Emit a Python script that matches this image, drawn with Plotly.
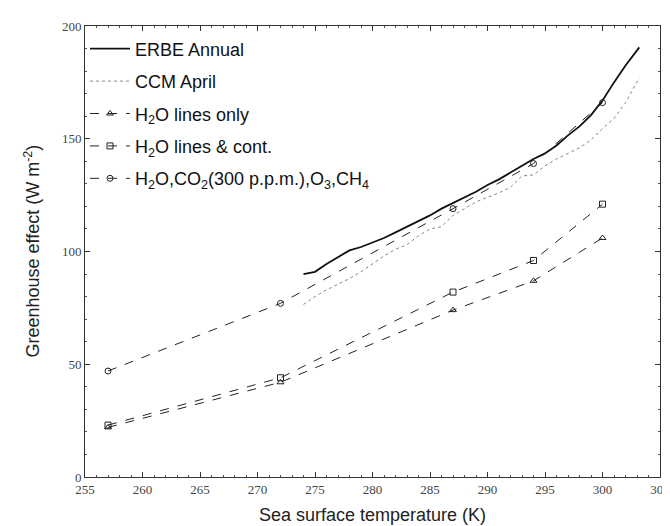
import plotly.graph_objects as go

# ---- data ----
erbe_x = [274, 275, 276, 277, 278, 279, 280, 281, 282, 283, 284, 285, 286, 287, 288, 289,
          290, 291, 292, 293, 294, 295, 296, 297, 298, 299, 300, 301, 302, 303.2]
erbe_y = [90, 91, 94.5, 97.5, 100.5, 102, 104, 106, 108.5, 111, 113.5, 116, 119, 121.5, 124, 126.5,
          129.5, 132, 135, 138, 141, 143.5, 147, 151.5, 155.5, 160.5, 167, 175, 182.5, 190.5]

ccm_x = [274, 275, 276, 277, 278, 279, 280, 281, 282, 283, 284, 285, 286, 287, 288, 289,
         290, 291, 292, 293, 294, 295, 296, 297, 298, 299, 300, 301, 302, 303.2]
ccm_y = [76.5, 80, 83, 85.5, 88, 91, 94.5, 98, 101, 103, 107, 110, 111, 116, 119, 122,
         124, 126, 128.5, 133.5, 134, 138, 141, 143.5, 146, 149.5, 154.5, 159, 166, 177]

model_x = [257, 272, 287, 294, 300]
h2o_lines = [22, 42, 74, 87, 106]
h2o_cont = [23, 44, 82, 96, 121]
h2o_all = [47, 77, 119, 139, 166]

x_ticks = [255, 260, 265, 270, 275, 280, 285, 290, 295, 300, 305]
y_ticks = [0, 50, 100, 150, 200]

fig = go.Figure()
fig.add_trace(go.Scatter(x=erbe_x, y=erbe_y, mode="lines", name="ERBE Annual",
                         legendgroup="a", line=dict(color="#111", width=1.8)))
fig.add_trace(go.Scatter(x=ccm_x, y=ccm_y, mode="lines", name="CCM April",
                         legendgroup="b", line=dict(color="#888", width=1, dash="dot")))
fig.add_trace(go.Scatter(x=model_x, y=h2o_lines, mode="lines+markers",
                         name="H<sub>2</sub>O lines only", legendgroup="c",
                         line=dict(color="#222", width=1, dash="dash"),
                         marker=dict(symbol="triangle-up-open", size=6, color="#222")))
fig.add_trace(go.Scatter(x=model_x, y=h2o_cont, mode="lines+markers",
                         name="H<sub>2</sub>O lines &amp; cont.", legendgroup="d",
                         line=dict(color="#222", width=1, dash="dash"),
                         marker=dict(symbol="square-open", size=6, color="#222")))
fig.add_trace(go.Scatter(x=model_x, y=h2o_all, mode="lines+markers",
                         name="H<sub>2</sub>O,CO<sub>2</sub>(300 p.p.m.),O<sub>3</sub>,CH<sub>4</sub>",
                         legendgroup="e",
                         line=dict(color="#222", width=1, dash="dash"),
                         marker=dict(symbol="circle-open", size=6, color="#222")))

axis_common = dict(showgrid=False, zeroline=False, showline=True, linecolor="#333",
                   linewidth=1, mirror="ticks", ticks="inside", ticklen=5, tickcolor="#333",
                   ticklabeloverflow="allow",
                   tickfont=dict(family="Liberation Serif", size=13, color="#444"))

fig.update_xaxes(range=[255, 305], tickvals=x_ticks,
                 minor=dict(dtick=1, ticks="inside", ticklen=2, tickcolor="#555"),
                 title=dict(text="Sea surface temperature (K)",
                            font=dict(family="Liberation Sans", size=18, color="#222"),
                            standoff=12),
                 **axis_common)
fig.update_yaxes(range=[0, 200], tickvals=y_ticks,
                 minor=dict(dtick=10, ticks="inside", ticklen=2, tickcolor="#555"),
                 **axis_common)

fig.add_annotation(text="Greenhouse effect (W m<sup>-2</sup>)", xref="paper", yref="paper",
                   x=-0.092, y=0.5, xanchor="center", yanchor="middle", textangle=-90,
                   showarrow=False,
                   font=dict(family="Liberation Sans", size=18, color="#222"))

fig.update_layout(
    width=670, height=526,
    margin=dict(l=77, r=8, t=18, b=57),
    plot_bgcolor="white", paper_bgcolor="white",
    showlegend=True,
    legend=dict(x=0.0, y=0.99, xanchor="left", yanchor="top",
                bgcolor="rgba(0,0,0,0)", tracegroupgap=6,
                font=dict(family="Liberation Sans", size=18, color="#111"),
                itemwidth=40),
)

fig.write_html("out.html")
